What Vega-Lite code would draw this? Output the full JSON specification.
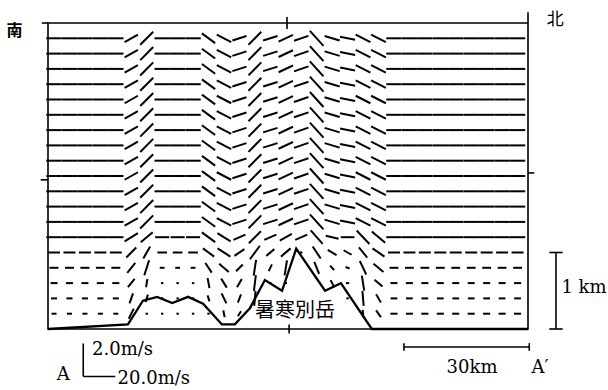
{
"$schema": "https://vega.github.io/schema/vega-lite/v6.json",
"width": 480, "height": 306,
"autosize": {"type": "none"},
"padding": {"left": 48, "top": 23, "right": 80, "bottom": 61},
"background": "white",
"config": {"view": {"stroke": "black", "strokeWidth": 1.6}},
"datasets": {
"wind": [
{"x":0,"z":0.2,"u":3.1,"w":0},{"x":3.7,"z":0.2,"u":3.1,"w":0},{"x":7.4,"z":0.2,"u":3.1,"w":0},{"x":11.1,"z":0.2,"u":3.1,"w":0},{"x":14.8,"z":0.2,"u":3.1,"w":0},{"x":18.5,"z":0.2,"u":3.1,"w":0.67},{"x":22.2,"z":0.2,"u":1.5,"w":0},{"x":25.9,"z":0.2,"u":1.5,"w":0},{"x":29.6,"z":0.2,"u":1.5,"w":0},{"x":33.3,"z":0.2,"u":1.5,"w":0},{"x":37,"z":0.2,"u":1.5,"w":0},{"x":40.7,"z":0.2,"u":0.8,"w":-0.45},{"x":44.4,"z":0.2,"u":2,"w":0.33},{"x":74,"z":0.2,"u":0.5,"w":-0.5},{"x":77.7,"z":0.2,"u":3,"w":-0.45},{"x":81.4,"z":0.2,"u":4.4,"w":0},{"x":85.1,"z":0.2,"u":4.4,"w":0},{"x":88.8,"z":0.2,"u":4.4,"w":0},{"x":92.5,"z":0.2,"u":4.4,"w":0},{"x":96.2,"z":0.2,"u":4.4,"w":0},{"x":99.9,"z":0.2,"u":4.4,"w":0},{"x":103.6,"z":0.2,"u":4.4,"w":0},{"x":107.3,"z":0.2,"u":4.4,"w":0},{"x":111,"z":0.2,"u":4.4,"w":0},
{"x":0,"z":0.4,"u":3.8,"w":0},{"x":3.7,"z":0.4,"u":3.8,"w":0},{"x":7.4,"z":0.4,"u":3.8,"w":0},{"x":11.1,"z":0.4,"u":3.8,"w":0},{"x":14.8,"z":0.4,"u":3.8,"w":0},{"x":18.5,"z":0.4,"u":2.2,"w":0.67},{"x":22.2,"z":0.4,"u":1.5,"w":0.5},{"x":25.9,"z":0.4,"u":1.5,"w":0},{"x":29.6,"z":0.4,"u":1.5,"w":0},{"x":33.3,"z":0.4,"u":1.5,"w":0},{"x":37,"z":0.4,"u":1.2,"w":-0.4},{"x":40.7,"z":0.4,"u":3,"w":-0.67},{"x":44.4,"z":0.4,"u":2,"w":0.55},{"x":48.1,"z":0.4,"u":0.8,"w":1},{"x":70.3,"z":0.4,"u":1.5,"w":0},{"x":74,"z":0.4,"u":0.8,"w":-1},{"x":77.7,"z":0.4,"u":3,"w":-0.55},{"x":81.4,"z":0.4,"u":4.2,"w":0},{"x":85.1,"z":0.4,"u":4.2,"w":0},{"x":88.8,"z":0.4,"u":4.2,"w":0},{"x":92.5,"z":0.4,"u":4.2,"w":0},{"x":96.2,"z":0.4,"u":4.2,"w":0},{"x":99.9,"z":0.4,"u":4.2,"w":0},{"x":103.6,"z":0.4,"u":4.2,"w":0},{"x":107.3,"z":0.4,"u":4.2,"w":0},{"x":111,"z":0.4,"u":4.2,"w":0},
{"x":0,"z":0.6,"u":4.4,"w":0},{"x":3.7,"z":0.6,"u":4.4,"w":0},{"x":7.4,"z":0.6,"u":4.4,"w":0},{"x":11.1,"z":0.6,"u":4.4,"w":0},{"x":14.8,"z":0.6,"u":4.4,"w":0},{"x":18.5,"z":0.6,"u":4.2,"w":0.55},{"x":22.2,"z":0.6,"u":0.8,"w":0.55},{"x":25.9,"z":0.6,"u":1.5,"w":0},{"x":29.6,"z":0.6,"u":1.5,"w":0},{"x":33.3,"z":0.6,"u":1.5,"w":0},{"x":37,"z":0.6,"u":1.2,"w":-0.67},{"x":40.7,"z":0.6,"u":3.5,"w":-0.6},{"x":44.4,"z":0.6,"u":3,"w":0.55},{"x":48.1,"z":0.6,"u":1.2,"w":1.05},{"x":51.8,"z":0.6,"u":1.5,"w":0},{"x":55.5,"z":0.6,"u":1.5,"w":0},{"x":66.6,"z":0.6,"u":2,"w":-0.4},{"x":70.3,"z":0.6,"u":2,"w":0},{"x":74,"z":0.6,"u":1.5,"w":-1},{"x":77.7,"z":0.6,"u":5,"w":-0.45},{"x":81.4,"z":0.6,"u":4.4,"w":0},{"x":85.1,"z":0.6,"u":4.4,"w":0},{"x":88.8,"z":0.6,"u":4.4,"w":0},{"x":92.5,"z":0.6,"u":4.4,"w":0},{"x":96.2,"z":0.6,"u":4.4,"w":0},{"x":99.9,"z":0.6,"u":4.4,"w":0},{"x":103.6,"z":0.6,"u":4.4,"w":0},{"x":107.3,"z":0.6,"u":4.4,"w":0},{"x":111,"z":0.6,"u":4.4,"w":0},
{"x":0,"z":0.8,"u":5.6,"w":0},{"x":3.7,"z":0.8,"u":5.6,"w":0},{"x":7.4,"z":0.8,"u":5.6,"w":0},{"x":11.1,"z":0.8,"u":5.6,"w":0},{"x":14.8,"z":0.8,"u":5.6,"w":0},{"x":18.5,"z":0.8,"u":5,"w":0.67},{"x":22.2,"z":0.8,"u":3,"w":1},{"x":25.9,"z":0.8,"u":3,"w":0},{"x":29.6,"z":0.8,"u":3,"w":0},{"x":33.3,"z":0.8,"u":3,"w":0},{"x":37,"z":0.8,"u":4,"w":-0.65},{"x":40.7,"z":0.8,"u":6,"w":-0.55},{"x":44.4,"z":0.8,"u":4.2,"w":0.45},{"x":48.1,"z":0.8,"u":1.5,"w":1.05},{"x":51.8,"z":0.8,"u":2,"w":0.45},{"x":55.5,"z":0.8,"u":1.5,"w":1},{"x":62.9,"z":0.8,"u":3,"w":-0.8},{"x":66.6,"z":0.8,"u":2.5,"w":-0.3},{"x":70.3,"z":0.8,"u":2.5,"w":-0.1},{"x":74,"z":0.8,"u":4,"w":-0.9},{"x":77.7,"z":0.8,"u":6.2,"w":-0.55},{"x":81.4,"z":0.8,"u":5.5,"w":0},{"x":85.1,"z":0.8,"u":5.5,"w":0},{"x":88.8,"z":0.8,"u":5.5,"w":0},{"x":92.5,"z":0.8,"u":5.5,"w":0},{"x":96.2,"z":0.8,"u":5.5,"w":0},{"x":99.9,"z":0.8,"u":5.5,"w":0},{"x":103.6,"z":0.8,"u":5.5,"w":0},{"x":107.3,"z":0.8,"u":5.5,"w":0},{"x":111,"z":0.8,"u":5.5,"w":0},
{"x":0,"z":1.0,"u":7.5,"w":0},{"x":3.7,"z":1.0,"u":7.5,"w":0},{"x":7.4,"z":1.0,"u":7.5,"w":0},{"x":11.1,"z":1.0,"u":7.5,"w":0},{"x":14.8,"z":1.0,"u":7.5,"w":0},{"x":18.5,"z":1.0,"u":6.2,"w":0.67},{"x":22.2,"z":1.0,"u":4.3,"w":0.8},{"x":25.9,"z":1.0,"u":6,"w":0},{"x":29.6,"z":1.0,"u":6,"w":0},{"x":33.3,"z":1.0,"u":6,"w":0},{"x":37,"z":1.0,"u":7,"w":-0.55},{"x":40.7,"z":1.0,"u":8,"w":-0.55},{"x":44.4,"z":1.0,"u":6.2,"w":0.45},{"x":48.1,"z":1.0,"u":6.2,"w":0.9},{"x":51.8,"z":1.0,"u":5,"w":0.45},{"x":55.5,"z":1.0,"u":6,"w":0.55},{"x":59.2,"z":1.0,"u":1.5,"w":0},{"x":62.9,"z":1.0,"u":5,"w":-0.8},{"x":66.6,"z":1.0,"u":5.5,"w":-0.35},{"x":70.3,"z":1.0,"u":5,"w":-0.3},{"x":74,"z":1.0,"u":5.2,"w":-0.67},{"x":77.7,"z":1.0,"u":7.5,"w":-0.55},{"x":81.4,"z":1.0,"u":7.5,"w":0},{"x":85.1,"z":1.0,"u":7.5,"w":0},{"x":88.8,"z":1.0,"u":7.5,"w":0},{"x":92.5,"z":1.0,"u":7.5,"w":0},{"x":96.2,"z":1.0,"u":7.5,"w":0},{"x":99.9,"z":1.0,"u":7.5,"w":0},{"x":103.6,"z":1.0,"u":7.5,"w":0},{"x":107.3,"z":1.0,"u":7.5,"w":0},{"x":111,"z":1.0,"u":7.5,"w":0},
{"x":0,"z":1.2,"u":9.6,"w":0},{"x":3.7,"z":1.2,"u":9.6,"w":0},{"x":7.4,"z":1.2,"u":9.6,"w":0},{"x":11.1,"z":1.2,"u":9.6,"w":0},{"x":14.8,"z":1.2,"u":9.6,"w":0},{"x":18.5,"z":1.2,"u":8.3,"w":0.55},{"x":22.2,"z":1.2,"u":7.5,"w":0.67},{"x":25.9,"z":1.2,"u":8.8,"w":0},{"x":29.6,"z":1.2,"u":8.8,"w":0},{"x":33.3,"z":1.2,"u":8.8,"w":0},{"x":37,"z":1.2,"u":8.3,"w":-0.65},{"x":40.7,"z":1.2,"u":8.3,"w":-0.55},{"x":44.4,"z":1.2,"u":7.5,"w":0.35},{"x":48.1,"z":1.2,"u":7.5,"w":0.8},{"x":51.8,"z":1.2,"u":7.5,"w":0.35},{"x":55.5,"z":1.2,"u":7.5,"w":0.45},{"x":59.2,"z":1.2,"u":7.5,"w":0.35},{"x":62.9,"z":1.2,"u":7.5,"w":-0.9},{"x":66.6,"z":1.2,"u":8,"w":-0.2},{"x":70.3,"z":1.2,"u":8.5,"w":0},{"x":74,"z":1.2,"u":8,"w":-0.9},{"x":77.7,"z":1.2,"u":8.3,"w":-0.75},{"x":81.4,"z":1.2,"u":9.6,"w":0},{"x":85.1,"z":1.2,"u":9.6,"w":0},{"x":88.8,"z":1.2,"u":9.6,"w":0},{"x":92.5,"z":1.2,"u":9.6,"w":0},{"x":96.2,"z":1.2,"u":9.6,"w":0},{"x":99.9,"z":1.2,"u":9.6,"w":0},{"x":103.6,"z":1.2,"u":9.6,"w":0},{"x":107.3,"z":1.2,"u":9.6,"w":0},{"x":111,"z":1.2,"u":9.6,"w":0},
{"x":0,"z":1.4,"u":9.6,"w":0},{"x":3.7,"z":1.4,"u":9.6,"w":0},{"x":7.4,"z":1.4,"u":9.6,"w":0},{"x":11.1,"z":1.4,"u":9.6,"w":0},{"x":14.8,"z":1.4,"u":9.6,"w":0},{"x":18.5,"z":1.4,"u":8.3,"w":0.5},{"x":22.2,"z":1.4,"u":8.1,"w":0.87},{"x":25.9,"z":1.4,"u":9.6,"w":0},{"x":29.6,"z":1.4,"u":9.6,"w":0},{"x":33.3,"z":1.4,"u":9.6,"w":0},{"x":37,"z":1.4,"u":8.3,"w":-0.65},{"x":40.7,"z":1.4,"u":9,"w":-0.5},{"x":44.4,"z":1.4,"u":8.8,"w":0.3},{"x":48.1,"z":1.4,"u":8,"w":0.87},{"x":51.8,"z":1.4,"u":9,"w":0.3},{"x":55.5,"z":1.4,"u":9,"w":0.45},{"x":59.2,"z":1.4,"u":9,"w":0.33},{"x":62.9,"z":1.4,"u":8.5,"w":-1},{"x":66.6,"z":1.4,"u":9.4,"w":-0.3},{"x":70.3,"z":1.4,"u":9.4,"w":-0.2},{"x":74,"z":1.4,"u":9.2,"w":-0.5},{"x":77.7,"z":1.4,"u":9.2,"w":-0.5},{"x":81.4,"z":1.4,"u":9.6,"w":0},{"x":85.1,"z":1.4,"u":9.6,"w":0},{"x":88.8,"z":1.4,"u":9.6,"w":0},{"x":92.5,"z":1.4,"u":9.6,"w":0},{"x":96.2,"z":1.4,"u":9.6,"w":0},{"x":99.9,"z":1.4,"u":9.6,"w":0},{"x":103.6,"z":1.4,"u":9.6,"w":0},{"x":107.3,"z":1.4,"u":9.6,"w":0},{"x":111,"z":1.4,"u":9.6,"w":0},
{"x":0,"z":1.6,"u":9.6,"w":0},{"x":3.7,"z":1.6,"u":9.6,"w":0},{"x":7.4,"z":1.6,"u":9.6,"w":0},{"x":11.1,"z":1.6,"u":9.6,"w":0},{"x":14.8,"z":1.6,"u":9.6,"w":0},{"x":18.5,"z":1.6,"u":8.3,"w":0.5},{"x":22.2,"z":1.6,"u":8.1,"w":0.87},{"x":25.9,"z":1.6,"u":9.6,"w":0},{"x":29.6,"z":1.6,"u":9.6,"w":0},{"x":33.3,"z":1.6,"u":9.6,"w":0},{"x":37,"z":1.6,"u":8.3,"w":-0.65},{"x":40.7,"z":1.6,"u":9,"w":-0.5},{"x":44.4,"z":1.6,"u":8.8,"w":0.3},{"x":48.1,"z":1.6,"u":8,"w":0.87},{"x":51.8,"z":1.6,"u":9,"w":0.3},{"x":55.5,"z":1.6,"u":9,"w":0.45},{"x":59.2,"z":1.6,"u":9,"w":0.33},{"x":62.9,"z":1.6,"u":8.5,"w":-1},{"x":66.6,"z":1.6,"u":9.4,"w":-0.3},{"x":70.3,"z":1.6,"u":9.4,"w":-0.2},{"x":74,"z":1.6,"u":9.2,"w":-0.5},{"x":77.7,"z":1.6,"u":9.2,"w":-0.5},{"x":81.4,"z":1.6,"u":9.6,"w":0},{"x":85.1,"z":1.6,"u":9.6,"w":0},{"x":88.8,"z":1.6,"u":9.6,"w":0},{"x":92.5,"z":1.6,"u":9.6,"w":0},{"x":96.2,"z":1.6,"u":9.6,"w":0},{"x":99.9,"z":1.6,"u":9.6,"w":0},{"x":103.6,"z":1.6,"u":9.6,"w":0},{"x":107.3,"z":1.6,"u":9.6,"w":0},{"x":111,"z":1.6,"u":9.6,"w":0},
{"x":0,"z":1.8,"u":9.6,"w":0},{"x":3.7,"z":1.8,"u":9.6,"w":0},{"x":7.4,"z":1.8,"u":9.6,"w":0},{"x":11.1,"z":1.8,"u":9.6,"w":0},{"x":14.8,"z":1.8,"u":9.6,"w":0},{"x":18.5,"z":1.8,"u":8.3,"w":0.5},{"x":22.2,"z":1.8,"u":8.1,"w":0.87},{"x":25.9,"z":1.8,"u":9.6,"w":0},{"x":29.6,"z":1.8,"u":9.6,"w":0},{"x":33.3,"z":1.8,"u":9.6,"w":0},{"x":37,"z":1.8,"u":8.3,"w":-0.65},{"x":40.7,"z":1.8,"u":9,"w":-0.5},{"x":44.4,"z":1.8,"u":8.8,"w":0.3},{"x":48.1,"z":1.8,"u":8,"w":0.87},{"x":51.8,"z":1.8,"u":9,"w":0.3},{"x":55.5,"z":1.8,"u":9,"w":0.45},{"x":59.2,"z":1.8,"u":9,"w":0.33},{"x":62.9,"z":1.8,"u":8.5,"w":-1},{"x":66.6,"z":1.8,"u":9.4,"w":-0.3},{"x":70.3,"z":1.8,"u":9.4,"w":-0.2},{"x":74,"z":1.8,"u":9.2,"w":-0.5},{"x":77.7,"z":1.8,"u":9.2,"w":-0.5},{"x":81.4,"z":1.8,"u":9.6,"w":0},{"x":85.1,"z":1.8,"u":9.6,"w":0},{"x":88.8,"z":1.8,"u":9.6,"w":0},{"x":92.5,"z":1.8,"u":9.6,"w":0},{"x":96.2,"z":1.8,"u":9.6,"w":0},{"x":99.9,"z":1.8,"u":9.6,"w":0},{"x":103.6,"z":1.8,"u":9.6,"w":0},{"x":107.3,"z":1.8,"u":9.6,"w":0},{"x":111,"z":1.8,"u":9.6,"w":0},
{"x":0,"z":2.0,"u":9.6,"w":0},{"x":3.7,"z":2.0,"u":9.6,"w":0},{"x":7.4,"z":2.0,"u":9.6,"w":0},{"x":11.1,"z":2.0,"u":9.6,"w":0},{"x":14.8,"z":2.0,"u":9.6,"w":0},{"x":18.5,"z":2.0,"u":8.3,"w":0.5},{"x":22.2,"z":2.0,"u":8.1,"w":0.87},{"x":25.9,"z":2.0,"u":9.6,"w":0},{"x":29.6,"z":2.0,"u":9.6,"w":0},{"x":33.3,"z":2.0,"u":9.6,"w":0},{"x":37,"z":2.0,"u":8.3,"w":-0.65},{"x":40.7,"z":2.0,"u":9,"w":-0.5},{"x":44.4,"z":2.0,"u":8.8,"w":0.3},{"x":48.1,"z":2.0,"u":8,"w":0.87},{"x":51.8,"z":2.0,"u":9,"w":0.3},{"x":55.5,"z":2.0,"u":9,"w":0.45},{"x":59.2,"z":2.0,"u":9,"w":0.33},{"x":62.9,"z":2.0,"u":8.5,"w":-1},{"x":66.6,"z":2.0,"u":9.4,"w":-0.3},{"x":70.3,"z":2.0,"u":9.4,"w":-0.2},{"x":74,"z":2.0,"u":9.2,"w":-0.5},{"x":77.7,"z":2.0,"u":9.2,"w":-0.5},{"x":81.4,"z":2.0,"u":9.6,"w":0},{"x":85.1,"z":2.0,"u":9.6,"w":0},{"x":88.8,"z":2.0,"u":9.6,"w":0},{"x":92.5,"z":2.0,"u":9.6,"w":0},{"x":96.2,"z":2.0,"u":9.6,"w":0},{"x":99.9,"z":2.0,"u":9.6,"w":0},{"x":103.6,"z":2.0,"u":9.6,"w":0},{"x":107.3,"z":2.0,"u":9.6,"w":0},{"x":111,"z":2.0,"u":9.6,"w":0},
{"x":0,"z":2.2,"u":9.6,"w":0},{"x":3.7,"z":2.2,"u":9.6,"w":0},{"x":7.4,"z":2.2,"u":9.6,"w":0},{"x":11.1,"z":2.2,"u":9.6,"w":0},{"x":14.8,"z":2.2,"u":9.6,"w":0},{"x":18.5,"z":2.2,"u":8.3,"w":0.5},{"x":22.2,"z":2.2,"u":8.1,"w":0.87},{"x":25.9,"z":2.2,"u":9.6,"w":0},{"x":29.6,"z":2.2,"u":9.6,"w":0},{"x":33.3,"z":2.2,"u":9.6,"w":0},{"x":37,"z":2.2,"u":8.3,"w":-0.65},{"x":40.7,"z":2.2,"u":9,"w":-0.5},{"x":44.4,"z":2.2,"u":8.8,"w":0.3},{"x":48.1,"z":2.2,"u":8,"w":0.87},{"x":51.8,"z":2.2,"u":9,"w":0.3},{"x":55.5,"z":2.2,"u":9,"w":0.45},{"x":59.2,"z":2.2,"u":9,"w":0.33},{"x":62.9,"z":2.2,"u":8.5,"w":-1},{"x":66.6,"z":2.2,"u":9.4,"w":-0.3},{"x":70.3,"z":2.2,"u":9.4,"w":-0.2},{"x":74,"z":2.2,"u":9.2,"w":-0.5},{"x":77.7,"z":2.2,"u":9.2,"w":-0.5},{"x":81.4,"z":2.2,"u":9.6,"w":0},{"x":85.1,"z":2.2,"u":9.6,"w":0},{"x":88.8,"z":2.2,"u":9.6,"w":0},{"x":92.5,"z":2.2,"u":9.6,"w":0},{"x":96.2,"z":2.2,"u":9.6,"w":0},{"x":99.9,"z":2.2,"u":9.6,"w":0},{"x":103.6,"z":2.2,"u":9.6,"w":0},{"x":107.3,"z":2.2,"u":9.6,"w":0},{"x":111,"z":2.2,"u":9.6,"w":0},
{"x":0,"z":2.4,"u":9.6,"w":0},{"x":3.7,"z":2.4,"u":9.6,"w":0},{"x":7.4,"z":2.4,"u":9.6,"w":0},{"x":11.1,"z":2.4,"u":9.6,"w":0},{"x":14.8,"z":2.4,"u":9.6,"w":0},{"x":18.5,"z":2.4,"u":8.3,"w":0.5},{"x":22.2,"z":2.4,"u":8.1,"w":0.87},{"x":25.9,"z":2.4,"u":9.6,"w":0},{"x":29.6,"z":2.4,"u":9.6,"w":0},{"x":33.3,"z":2.4,"u":9.6,"w":0},{"x":37,"z":2.4,"u":8.3,"w":-0.65},{"x":40.7,"z":2.4,"u":9,"w":-0.5},{"x":44.4,"z":2.4,"u":8.8,"w":0.3},{"x":48.1,"z":2.4,"u":8,"w":0.87},{"x":51.8,"z":2.4,"u":9,"w":0.3},{"x":55.5,"z":2.4,"u":9,"w":0.45},{"x":59.2,"z":2.4,"u":9,"w":0.33},{"x":62.9,"z":2.4,"u":8.5,"w":-1},{"x":66.6,"z":2.4,"u":9.4,"w":-0.3},{"x":70.3,"z":2.4,"u":9.4,"w":-0.2},{"x":74,"z":2.4,"u":9.2,"w":-0.5},{"x":77.7,"z":2.4,"u":9.2,"w":-0.5},{"x":81.4,"z":2.4,"u":9.6,"w":0},{"x":85.1,"z":2.4,"u":9.6,"w":0},{"x":88.8,"z":2.4,"u":9.6,"w":0},{"x":92.5,"z":2.4,"u":9.6,"w":0},{"x":96.2,"z":2.4,"u":9.6,"w":0},{"x":99.9,"z":2.4,"u":9.6,"w":0},{"x":103.6,"z":2.4,"u":9.6,"w":0},{"x":107.3,"z":2.4,"u":9.6,"w":0},{"x":111,"z":2.4,"u":9.6,"w":0},
{"x":0,"z":2.6,"u":9.6,"w":0},{"x":3.7,"z":2.6,"u":9.6,"w":0},{"x":7.4,"z":2.6,"u":9.6,"w":0},{"x":11.1,"z":2.6,"u":9.6,"w":0},{"x":14.8,"z":2.6,"u":9.6,"w":0},{"x":18.5,"z":2.6,"u":8.3,"w":0.5},{"x":22.2,"z":2.6,"u":8.1,"w":0.87},{"x":25.9,"z":2.6,"u":9.6,"w":0},{"x":29.6,"z":2.6,"u":9.6,"w":0},{"x":33.3,"z":2.6,"u":9.6,"w":0},{"x":37,"z":2.6,"u":8.3,"w":-0.65},{"x":40.7,"z":2.6,"u":9,"w":-0.5},{"x":44.4,"z":2.6,"u":8.8,"w":0.3},{"x":48.1,"z":2.6,"u":8,"w":0.87},{"x":51.8,"z":2.6,"u":9,"w":0.3},{"x":55.5,"z":2.6,"u":9,"w":0.45},{"x":59.2,"z":2.6,"u":9,"w":0.33},{"x":62.9,"z":2.6,"u":8.5,"w":-1},{"x":66.6,"z":2.6,"u":9.4,"w":-0.3},{"x":70.3,"z":2.6,"u":9.4,"w":-0.2},{"x":74,"z":2.6,"u":9.2,"w":-0.5},{"x":77.7,"z":2.6,"u":9.2,"w":-0.5},{"x":81.4,"z":2.6,"u":9.6,"w":0},{"x":85.1,"z":2.6,"u":9.6,"w":0},{"x":88.8,"z":2.6,"u":9.6,"w":0},{"x":92.5,"z":2.6,"u":9.6,"w":0},{"x":96.2,"z":2.6,"u":9.6,"w":0},{"x":99.9,"z":2.6,"u":9.6,"w":0},{"x":103.6,"z":2.6,"u":9.6,"w":0},{"x":107.3,"z":2.6,"u":9.6,"w":0},{"x":111,"z":2.6,"u":9.6,"w":0},
{"x":0,"z":2.8,"u":9.6,"w":0},{"x":3.7,"z":2.8,"u":9.6,"w":0},{"x":7.4,"z":2.8,"u":9.6,"w":0},{"x":11.1,"z":2.8,"u":9.6,"w":0},{"x":14.8,"z":2.8,"u":9.6,"w":0},{"x":18.5,"z":2.8,"u":8.3,"w":0.5},{"x":22.2,"z":2.8,"u":8.1,"w":0.87},{"x":25.9,"z":2.8,"u":9.6,"w":0},{"x":29.6,"z":2.8,"u":9.6,"w":0},{"x":33.3,"z":2.8,"u":9.6,"w":0},{"x":37,"z":2.8,"u":8.3,"w":-0.65},{"x":40.7,"z":2.8,"u":9,"w":-0.5},{"x":44.4,"z":2.8,"u":8.8,"w":0.3},{"x":48.1,"z":2.8,"u":8,"w":0.87},{"x":51.8,"z":2.8,"u":9,"w":0.3},{"x":55.5,"z":2.8,"u":9,"w":0.45},{"x":59.2,"z":2.8,"u":9,"w":0.33},{"x":62.9,"z":2.8,"u":8.5,"w":-1},{"x":66.6,"z":2.8,"u":9.4,"w":-0.3},{"x":70.3,"z":2.8,"u":9.4,"w":-0.2},{"x":74,"z":2.8,"u":9.2,"w":-0.5},{"x":77.7,"z":2.8,"u":9.2,"w":-0.5},{"x":81.4,"z":2.8,"u":9.6,"w":0},{"x":85.1,"z":2.8,"u":9.6,"w":0},{"x":88.8,"z":2.8,"u":9.6,"w":0},{"x":92.5,"z":2.8,"u":9.6,"w":0},{"x":96.2,"z":2.8,"u":9.6,"w":0},{"x":99.9,"z":2.8,"u":9.6,"w":0},{"x":103.6,"z":2.8,"u":9.6,"w":0},{"x":107.3,"z":2.8,"u":9.6,"w":0},{"x":111,"z":2.8,"u":9.6,"w":0},
{"x":0,"z":3.0,"u":9.6,"w":0},{"x":3.7,"z":3.0,"u":9.6,"w":0},{"x":7.4,"z":3.0,"u":9.6,"w":0},{"x":11.1,"z":3.0,"u":9.6,"w":0},{"x":14.8,"z":3.0,"u":9.6,"w":0},{"x":18.5,"z":3.0,"u":8.3,"w":0.5},{"x":22.2,"z":3.0,"u":8.1,"w":0.87},{"x":25.9,"z":3.0,"u":9.6,"w":0},{"x":29.6,"z":3.0,"u":9.6,"w":0},{"x":33.3,"z":3.0,"u":9.6,"w":0},{"x":37,"z":3.0,"u":8.3,"w":-0.65},{"x":40.7,"z":3.0,"u":9,"w":-0.5},{"x":44.4,"z":3.0,"u":8.8,"w":0.3},{"x":48.1,"z":3.0,"u":8,"w":0.87},{"x":51.8,"z":3.0,"u":9,"w":0.3},{"x":55.5,"z":3.0,"u":9,"w":0.45},{"x":59.2,"z":3.0,"u":9,"w":0.33},{"x":62.9,"z":3.0,"u":8.5,"w":-1},{"x":66.6,"z":3.0,"u":9.4,"w":-0.3},{"x":70.3,"z":3.0,"u":9.4,"w":-0.2},{"x":74,"z":3.0,"u":9.2,"w":-0.5},{"x":77.7,"z":3.0,"u":9.2,"w":-0.5},{"x":81.4,"z":3.0,"u":9.6,"w":0},{"x":85.1,"z":3.0,"u":9.6,"w":0},{"x":88.8,"z":3.0,"u":9.6,"w":0},{"x":92.5,"z":3.0,"u":9.6,"w":0},{"x":96.2,"z":3.0,"u":9.6,"w":0},{"x":99.9,"z":3.0,"u":9.6,"w":0},{"x":103.6,"z":3.0,"u":9.6,"w":0},{"x":107.3,"z":3.0,"u":9.6,"w":0},{"x":111,"z":3.0,"u":9.6,"w":0},
{"x":0,"z":3.2,"u":9.6,"w":0},{"x":3.7,"z":3.2,"u":9.6,"w":0},{"x":7.4,"z":3.2,"u":9.6,"w":0},{"x":11.1,"z":3.2,"u":9.6,"w":0},{"x":14.8,"z":3.2,"u":9.6,"w":0},{"x":18.5,"z":3.2,"u":8.3,"w":0.5},{"x":22.2,"z":3.2,"u":8.1,"w":0.87},{"x":25.9,"z":3.2,"u":9.6,"w":0},{"x":29.6,"z":3.2,"u":9.6,"w":0},{"x":33.3,"z":3.2,"u":9.6,"w":0},{"x":37,"z":3.2,"u":8.3,"w":-0.65},{"x":40.7,"z":3.2,"u":9,"w":-0.5},{"x":44.4,"z":3.2,"u":8.8,"w":0.3},{"x":48.1,"z":3.2,"u":8,"w":0.87},{"x":51.8,"z":3.2,"u":9,"w":0.3},{"x":55.5,"z":3.2,"u":9,"w":0.45},{"x":59.2,"z":3.2,"u":9,"w":0.33},{"x":62.9,"z":3.2,"u":8.5,"w":-1},{"x":66.6,"z":3.2,"u":9.4,"w":-0.3},{"x":70.3,"z":3.2,"u":9.4,"w":-0.2},{"x":74,"z":3.2,"u":9.2,"w":-0.5},{"x":77.7,"z":3.2,"u":9.2,"w":-0.5},{"x":81.4,"z":3.2,"u":9.6,"w":0},{"x":85.1,"z":3.2,"u":9.6,"w":0},{"x":88.8,"z":3.2,"u":9.6,"w":0},{"x":92.5,"z":3.2,"u":9.6,"w":0},{"x":96.2,"z":3.2,"u":9.6,"w":0},{"x":99.9,"z":3.2,"u":9.6,"w":0},{"x":103.6,"z":3.2,"u":9.6,"w":0},{"x":107.3,"z":3.2,"u":9.6,"w":0},{"x":111,"z":3.2,"u":9.6,"w":0},
{"x":0,"z":3.4,"u":9.6,"w":0},{"x":3.7,"z":3.4,"u":9.6,"w":0},{"x":7.4,"z":3.4,"u":9.6,"w":0},{"x":11.1,"z":3.4,"u":9.6,"w":0},{"x":14.8,"z":3.4,"u":9.6,"w":0},{"x":18.5,"z":3.4,"u":8.3,"w":0.5},{"x":22.2,"z":3.4,"u":8.1,"w":0.87},{"x":25.9,"z":3.4,"u":9.6,"w":0},{"x":29.6,"z":3.4,"u":9.6,"w":0},{"x":33.3,"z":3.4,"u":9.6,"w":0},{"x":37,"z":3.4,"u":8.3,"w":-0.65},{"x":40.7,"z":3.4,"u":9,"w":-0.5},{"x":44.4,"z":3.4,"u":8.8,"w":0.3},{"x":48.1,"z":3.4,"u":8,"w":0.87},{"x":51.8,"z":3.4,"u":9,"w":0.3},{"x":55.5,"z":3.4,"u":9,"w":0.45},{"x":59.2,"z":3.4,"u":9,"w":0.33},{"x":62.9,"z":3.4,"u":8.5,"w":-1},{"x":66.6,"z":3.4,"u":9.4,"w":-0.3},{"x":70.3,"z":3.4,"u":9.4,"w":-0.2},{"x":74,"z":3.4,"u":9.2,"w":-0.5},{"x":77.7,"z":3.4,"u":9.2,"w":-0.5},{"x":81.4,"z":3.4,"u":9.6,"w":0},{"x":85.1,"z":3.4,"u":9.6,"w":0},{"x":88.8,"z":3.4,"u":9.6,"w":0},{"x":92.5,"z":3.4,"u":9.6,"w":0},{"x":96.2,"z":3.4,"u":9.6,"w":0},{"x":99.9,"z":3.4,"u":9.6,"w":0},{"x":103.6,"z":3.4,"u":9.6,"w":0},{"x":107.3,"z":3.4,"u":9.6,"w":0},{"x":111,"z":3.4,"u":9.6,"w":0},
{"x":0,"z":3.6,"u":9.6,"w":0},{"x":3.7,"z":3.6,"u":9.6,"w":0},{"x":7.4,"z":3.6,"u":9.6,"w":0},{"x":11.1,"z":3.6,"u":9.6,"w":0},{"x":14.8,"z":3.6,"u":9.6,"w":0},{"x":18.5,"z":3.6,"u":8.3,"w":0.5},{"x":22.2,"z":3.6,"u":8.1,"w":0.87},{"x":25.9,"z":3.6,"u":9.6,"w":0},{"x":29.6,"z":3.6,"u":9.6,"w":0},{"x":33.3,"z":3.6,"u":9.6,"w":0},{"x":37,"z":3.6,"u":8.3,"w":-0.65},{"x":40.7,"z":3.6,"u":9,"w":-0.5},{"x":44.4,"z":3.6,"u":8.8,"w":0.3},{"x":48.1,"z":3.6,"u":8,"w":0.87},{"x":51.8,"z":3.6,"u":9,"w":0.3},{"x":55.5,"z":3.6,"u":9,"w":0.45},{"x":59.2,"z":3.6,"u":9,"w":0.33},{"x":62.9,"z":3.6,"u":8.5,"w":-1},{"x":66.6,"z":3.6,"u":9.4,"w":-0.3},{"x":70.3,"z":3.6,"u":9.4,"w":-0.2},{"x":74,"z":3.6,"u":9.2,"w":-0.5},{"x":77.7,"z":3.6,"u":9.2,"w":-0.5},{"x":81.4,"z":3.6,"u":9.6,"w":0},{"x":85.1,"z":3.6,"u":9.6,"w":0},{"x":88.8,"z":3.6,"u":9.6,"w":0},{"x":92.5,"z":3.6,"u":9.6,"w":0},{"x":96.2,"z":3.6,"u":9.6,"w":0},{"x":99.9,"z":3.6,"u":9.6,"w":0},{"x":103.6,"z":3.6,"u":9.6,"w":0},{"x":107.3,"z":3.6,"u":9.6,"w":0},{"x":111,"z":3.6,"u":9.6,"w":0},
{"x":0,"z":3.8,"u":9.6,"w":0},{"x":3.7,"z":3.8,"u":9.6,"w":0},{"x":7.4,"z":3.8,"u":9.6,"w":0},{"x":11.1,"z":3.8,"u":9.6,"w":0},{"x":14.8,"z":3.8,"u":9.6,"w":0},{"x":18.5,"z":3.8,"u":8.3,"w":0.5},{"x":22.2,"z":3.8,"u":8.1,"w":0.87},{"x":25.9,"z":3.8,"u":9.6,"w":0},{"x":29.6,"z":3.8,"u":9.6,"w":0},{"x":33.3,"z":3.8,"u":9.6,"w":0},{"x":37,"z":3.8,"u":8.3,"w":-0.65},{"x":40.7,"z":3.8,"u":9,"w":-0.5},{"x":44.4,"z":3.8,"u":8.8,"w":0.3},{"x":48.1,"z":3.8,"u":8,"w":0.87},{"x":51.8,"z":3.8,"u":9,"w":0.3},{"x":55.5,"z":3.8,"u":9,"w":0.45},{"x":59.2,"z":3.8,"u":9,"w":0.33},{"x":62.9,"z":3.8,"u":8.5,"w":-1},{"x":66.6,"z":3.8,"u":9.4,"w":-0.3},{"x":70.3,"z":3.8,"u":9.4,"w":-0.2},{"x":74,"z":3.8,"u":9.2,"w":-0.5},{"x":77.7,"z":3.8,"u":9.2,"w":-0.5},{"x":81.4,"z":3.8,"u":9.6,"w":0},{"x":85.1,"z":3.8,"u":9.6,"w":0},{"x":88.8,"z":3.8,"u":9.6,"w":0},{"x":92.5,"z":3.8,"u":9.6,"w":0},{"x":96.2,"z":3.8,"u":9.6,"w":0},{"x":99.9,"z":3.8,"u":9.6,"w":0},{"x":103.6,"z":3.8,"u":9.6,"w":0},{"x":107.3,"z":3.8,"u":9.6,"w":0},{"x":111,"z":3.8,"u":9.6,"w":0}
],
"terrain": [
{"x":-1.44,"z":0},{"x":17.7,"z":0.06},{"x":21.3,"z":0.37},{"x":24.7,"z":0.42},{"x":28.3,"z":0.34},{"x":32.1,"z":0.42},{"x":35.7,"z":0.33},{"x":40.2,"z":0.06},{"x":43.3,"z":0.06},{"x":46.9,"z":0.27},{"x":50.5,"z":0.64},{"x":54.6,"z":0.5},{"x":58,"z":1.05},{"x":64.9,"z":0.5},{"x":68.7,"z":0.6},{"x":76.1,"z":0},{"x":113.5,"z":0}
],
"deco": [
{"x":-2.9,"x2":-1.44,"z":4.0,"z2":4.0},
{"x":55.8,"x2":55.8,"z":3.92,"z2":4.08},
{"x":56.3,"x2":56.3,"z":-0.06,"z2":0.06},
{"x":-3.2,"x2":-1.44,"z":1.95,"z2":1.95},
{"x":113.5,"x2":113.5,"z":4.0,"z2":4.14},
{"x":113.5,"x2":115,"z":2.04,"z2":2.04},
{"x":83.8,"x2":113.8,"z":-0.235,"z2":-0.235},
{"x":83.8,"x2":83.8,"z":-0.185,"z2":-0.285},
{"x":113.8,"x2":113.8,"z":-0.185,"z2":-0.285},
{"x":120.2,"x2":120.2,"z":0,"z2":1},
{"x":118.6,"x2":121.8,"z":0,"z2":0},
{"x":118.6,"x2":121.8,"z":1,"z2":1}
],
"legend": [
{"x":7.0,"z":-0.62,"u":20,"w":0},
{"x":7.0,"z":-0.62,"u":0,"w":2.2}
],
"serif": [
{"t":"2.0m/s","x":16.4,"z":-0.275},
{"t":"20.0m/s","x":23.9,"z":-0.65},
{"t":"A","x":2.2,"z":-0.6},
{"t":"30km","x":100.1,"z":-0.51},
{"t":"A′","x":116.4,"z":-0.51},
{"t":"1 km","x":126.9,"z":0.536}
]
},
"layer": [
{
"data": {"name": "wind"},
"transform": [
{"calculate": "datum.x - datum.u*0.1916", "as": "xa"},
{"calculate": "datum.x + datum.u*0.1916", "as": "xb"},
{"calculate": "datum.z - datum.w*0.098", "as": "za"},
{"calculate": "datum.z + datum.w*0.098", "as": "zb"}
],
"mark": {"type": "rule", "strokeWidth": 2, "color": "black"},
"encoding": {
"x": {"field": "xa", "type": "quantitative", "scale": {"domain": [-1.44, 113.5], "nice": false, "zero": false}, "axis": null},
"x2": {"field": "xb"},
"y": {"field": "za", "type": "quantitative", "scale": {"domain": [0, 4.0], "nice": false, "zero": false}, "axis": null},
"y2": {"field": "zb"}
}
},
{
"data": {"name": "terrain"},
"mark": {"type": "line", "strokeWidth": 2.3, "color": "black"},
"encoding": {
"x": {"field": "x", "type": "quantitative", "scale": {"domain": [-1.44, 113.5], "nice": false, "zero": false}, "axis": null},
"y": {"field": "z", "type": "quantitative", "scale": {"domain": [0, 4.0], "nice": false, "zero": false}, "axis": null}
}
},
{
"data": {"name": "deco"},
"mark": {"type": "rule", "strokeWidth": 1.6, "color": "black"},
"encoding": {
"x": {"field": "x", "type": "quantitative", "scale": {"domain": [-1.44, 113.5], "nice": false, "zero": false}, "axis": null},
"x2": {"field": "x2"},
"y": {"field": "z", "type": "quantitative", "scale": {"domain": [0, 4.0], "nice": false, "zero": false}, "axis": null},
"y2": {"field": "z2"}
}
},
{
"data": {"name": "legend"},
"transform": [
{"calculate": "datum.x + datum.u*0.3832", "as": "xb"},
{"calculate": "datum.z + datum.w*0.196", "as": "zb"}
],
"mark": {"type": "rule", "strokeWidth": 1.6, "color": "black"},
"encoding": {
"x": {"field": "x", "type": "quantitative", "scale": {"domain": [-1.44, 113.5], "nice": false, "zero": false}, "axis": null},
"x2": {"field": "xb"},
"y": {"field": "z", "type": "quantitative", "scale": {"domain": [0, 4.0], "nice": false, "zero": false}, "axis": null},
"y2": {"field": "zb"}
}
},
{
"data": {"name": "serif"},
"mark": {"type": "text", "font": "DejaVu Serif", "fontSize": 18, "color": "black", "align": "center", "baseline": "middle"},
"encoding": {
"x": {"field": "x", "type": "quantitative", "scale": {"domain": [-1.44, 113.5], "nice": false, "zero": false}, "axis": null},
"y": {"field": "z", "type": "quantitative", "scale": {"domain": [0, 4.0], "nice": false, "zero": false}, "axis": null},
"text": {"field": "t"}
}
},
{
"data": {"values": [{"t": "南", "x": -9.46, "z": 3.9}]},
"mark": {"type": "text", "font": "Noto Sans CJK JP", "fontSize": 16, "fontWeight": "bold", "fill": "black", "align": "center", "baseline": "middle"},
"encoding": {
"x": {"field": "x", "type": "quantitative", "scale": {"domain": [-1.44, 113.5], "nice": false, "zero": false}, "axis": null},
"y": {"field": "z", "type": "quantitative", "scale": {"domain": [0, 4.0], "nice": false, "zero": false}, "axis": null},
"text": {"field": "t"}
}
},
{
"data": {"values": [{"t": "北", "x": 120, "z": 4.04}]},
"mark": {"type": "text", "font": "Noto Sans CJK JP", "fontSize": 17, "fill": "black", "align": "center", "baseline": "middle"},
"encoding": {
"x": {"field": "x", "type": "quantitative", "scale": {"domain": [-1.44, 113.5], "nice": false, "zero": false}, "axis": null},
"y": {"field": "z", "type": "quantitative", "scale": {"domain": [0, 4.0], "nice": false, "zero": false}, "axis": null},
"text": {"field": "t"}
}
},
{
"data": {"values": [{"t": "暑寒別岳", "x": 57.7, "z": 0.24}]},
"mark": {"type": "text", "font": "Noto Sans CJK JP", "fontSize": 20, "fill": "black", "align": "center", "baseline": "middle"},
"encoding": {
"x": {"field": "x", "type": "quantitative", "scale": {"domain": [-1.44, 113.5], "nice": false, "zero": false}, "axis": null},
"y": {"field": "z", "type": "quantitative", "scale": {"domain": [0, 4.0], "nice": false, "zero": false}, "axis": null},
"text": {"field": "t"}
}
}
]
}
